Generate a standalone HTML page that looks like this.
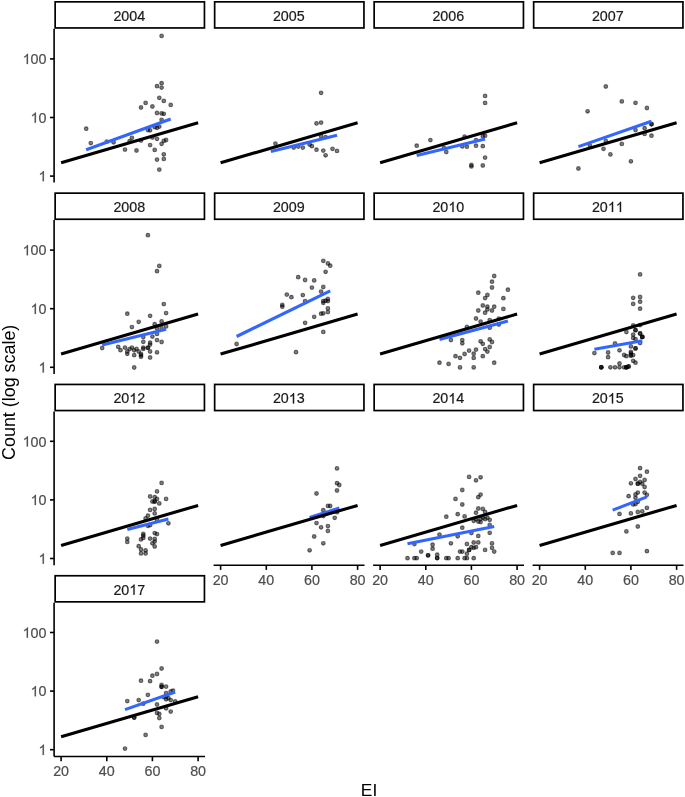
<!DOCTYPE html>
<html><head><meta charset="utf-8"><title>chart</title>
<style>
html,body{margin:0;padding:0;background:#fff;overflow:hidden;}
svg{display:block;will-change:transform;transform:translateZ(0);}
text{font-family:"Liberation Sans",sans-serif;}
.at{font-size:14.3px;fill:#4d4d4d;stroke:#4d4d4d;stroke-width:.2px;}
.st{font-size:14.3px;fill:#1a1a1a;stroke:#1a1a1a;stroke-width:.2px;}
.ti{font-size:17.9px;fill:#000;}
.p circle{fill:#000;fill-opacity:.5;stroke:#000;stroke-opacity:.52;stroke-width:1.1;}
</style></head><body>
<svg width="685" height="797" viewBox="0 0 685 797">
<rect width="685" height="797" fill="#fff"/>
<!-- 2004 -->
<g>
<g class="p"><circle cx="161.6" cy="35.9" r="1.85"/><circle cx="161.6" cy="83.2" r="1.85"/><circle cx="157.0" cy="86.2" r="1.85"/><circle cx="161.6" cy="87.6" r="1.85"/><circle cx="159.3" cy="97.8" r="1.85"/><circle cx="163.8" cy="100.9" r="1.85"/><circle cx="145.6" cy="102.9" r="1.85"/><circle cx="170.7" cy="104.9" r="1.85"/><circle cx="152.4" cy="106.5" r="1.85"/><circle cx="141.0" cy="107.5" r="1.85"/><circle cx="157.0" cy="113.0" r="1.85"/><circle cx="161.6" cy="113.4" r="1.85"/><circle cx="163.8" cy="113.8" r="1.85"/><circle cx="161.6" cy="119.8" r="1.85"/><circle cx="159.3" cy="126.6" r="1.85"/><circle cx="157.0" cy="127.8" r="1.85"/><circle cx="154.7" cy="127.2" r="1.85"/><circle cx="150.1" cy="130.3" r="1.85"/><circle cx="147.9" cy="130.0" r="1.85"/><circle cx="86.2" cy="128.7" r="1.85"/><circle cx="90.8" cy="143.1" r="1.85"/><circle cx="106.8" cy="141.6" r="1.85"/><circle cx="113.6" cy="142.3" r="1.85"/><circle cx="125.0" cy="149.6" r="1.85"/><circle cx="131.9" cy="137.8" r="1.85"/><circle cx="129.6" cy="141.2" r="1.85"/><circle cx="136.5" cy="150.5" r="1.85"/><circle cx="141.0" cy="140.5" r="1.85"/><circle cx="152.4" cy="137.5" r="1.85"/><circle cx="157.0" cy="138.8" r="1.85"/><circle cx="166.1" cy="140.0" r="1.85"/><circle cx="163.8" cy="140.9" r="1.85"/><circle cx="161.6" cy="143.8" r="1.85"/><circle cx="150.1" cy="145.1" r="1.85"/><circle cx="154.7" cy="149.9" r="1.85"/><circle cx="163.8" cy="154.3" r="1.85"/><circle cx="163.8" cy="158.9" r="1.85"/><circle cx="157.0" cy="159.6" r="1.85"/><circle cx="159.3" cy="169.6" r="1.85"/></g>
<line x1="86.2" y1="149.7" x2="170.7" y2="119.0" stroke="#3366ff" stroke-width="3.1"/>
<line x1="61.1" y1="162.8" x2="198.1" y2="122.8" stroke="#000" stroke-width="3.1"/>
<rect x="55.15" y="1.85" width="149.30" height="26.10" fill="#fff" stroke="#000" stroke-width="1.7"/>
<text class="st" x="113.39" y="20.80">2</text><text class="st" x="121.35" y="20.80">0</text><text class="st" x="129.30" y="20.80">0</text><text class="st" x="137.25" y="20.80">4</text>
<line x1="54.10" y1="28.8" x2="54.10" y2="182.6" stroke="#000" stroke-width="1.6"/>
<line x1="50.0" y1="58.9" x2="54.1" y2="58.9" stroke="#000" stroke-width="1.6"/>
<path transform="translate(22.64,64.10) scale(0.006982,-0.006982)" d="M763 0H583V1147Q518 1085 412.5 1023T223 930V1104Q374 1175 487 1276T647 1472H763Z" fill="#4d4d4d" stroke="#4d4d4d" stroke-width="28.6"/><text class="at" x="30.59" y="64.10">0</text><text class="at" x="38.55" y="64.10">0</text>
<line x1="50.0" y1="117.5" x2="54.1" y2="117.5" stroke="#000" stroke-width="1.6"/>
<path transform="translate(30.59,122.70) scale(0.006982,-0.006982)" d="M763 0H583V1147Q518 1085 412.5 1023T223 930V1104Q374 1175 487 1276T647 1472H763Z" fill="#4d4d4d" stroke="#4d4d4d" stroke-width="28.6"/><text class="at" x="38.55" y="122.70">0</text>
<line x1="50.0" y1="176.1" x2="54.1" y2="176.1" stroke="#000" stroke-width="1.6"/>
<path transform="translate(38.55,181.30) scale(0.006982,-0.006982)" d="M763 0H583V1147Q518 1085 412.5 1023T223 930V1104Q374 1175 487 1276T647 1472H763Z" fill="#4d4d4d" stroke="#4d4d4d" stroke-width="28.6"/>
</g>
<!-- 2005 -->
<g>
<g class="p"><circle cx="321.1" cy="92.8" r="1.85"/><circle cx="316.5" cy="123.4" r="1.85"/><circle cx="321.1" cy="122.6" r="1.85"/><circle cx="275.4" cy="143.6" r="1.85"/><circle cx="321.1" cy="136.2" r="1.85"/><circle cx="325.6" cy="137.1" r="1.85"/><circle cx="293.7" cy="147.6" r="1.85"/><circle cx="298.2" cy="146.6" r="1.85"/><circle cx="302.8" cy="147.6" r="1.85"/><circle cx="309.6" cy="144.5" r="1.85"/><circle cx="311.9" cy="146.2" r="1.85"/><circle cx="316.5" cy="149.7" r="1.85"/><circle cx="323.3" cy="150.6" r="1.85"/><circle cx="325.6" cy="155.3" r="1.85"/><circle cx="332.5" cy="148.8" r="1.85"/><circle cx="337.0" cy="150.9" r="1.85"/></g>
<line x1="270.9" y1="151.5" x2="337.0" y2="135.2" stroke="#3366ff" stroke-width="3.1"/>
<line x1="220.6" y1="162.8" x2="357.6" y2="122.8" stroke="#000" stroke-width="3.1"/>
<rect x="214.65" y="1.85" width="149.30" height="26.10" fill="#fff" stroke="#000" stroke-width="1.7"/>
<text class="st" x="272.89" y="20.80">2</text><text class="st" x="280.85" y="20.80">0</text><text class="st" x="288.80" y="20.80">0</text><text class="st" x="296.75" y="20.80">5</text>
</g>
<!-- 2006 -->
<g>
<g class="p"><circle cx="485.1" cy="95.9" r="1.85"/><circle cx="485.1" cy="102.9" r="1.85"/><circle cx="430.4" cy="140.1" r="1.85"/><circle cx="416.7" cy="145.7" r="1.85"/><circle cx="464.6" cy="136.6" r="1.85"/><circle cx="485.1" cy="135.7" r="1.85"/><circle cx="482.8" cy="136.2" r="1.85"/><circle cx="476.0" cy="140.1" r="1.85"/><circle cx="476.0" cy="145.7" r="1.85"/><circle cx="482.8" cy="146.2" r="1.85"/><circle cx="466.9" cy="146.7" r="1.85"/><circle cx="462.3" cy="146.4" r="1.85"/><circle cx="446.3" cy="152.0" r="1.85"/><circle cx="444.0" cy="148.0" r="1.85"/><circle cx="485.1" cy="157.6" r="1.85"/><circle cx="471.4" cy="165.0" r="1.85"/><circle cx="471.4" cy="166.4" r="1.85"/><circle cx="482.8" cy="165.5" r="1.85"/></g>
<line x1="416.7" y1="155.5" x2="485.1" y2="138.9" stroke="#3366ff" stroke-width="3.1"/>
<line x1="380.1" y1="162.8" x2="517.1" y2="122.8" stroke="#000" stroke-width="3.1"/>
<rect x="374.15" y="1.85" width="149.30" height="26.10" fill="#fff" stroke="#000" stroke-width="1.7"/>
<text class="st" x="432.39" y="20.80">2</text><text class="st" x="440.35" y="20.80">0</text><text class="st" x="448.30" y="20.80">0</text><text class="st" x="456.25" y="20.80">6</text>
</g>
<!-- 2007 -->
<g>
<g class="p"><circle cx="605.8" cy="86.5" r="1.85"/><circle cx="621.8" cy="101.4" r="1.85"/><circle cx="635.5" cy="102.8" r="1.85"/><circle cx="646.9" cy="108.0" r="1.85"/><circle cx="587.6" cy="111.3" r="1.85"/><circle cx="651.5" cy="124.0" r="1.85"/><circle cx="651.5" cy="124.3" r="1.85"/><circle cx="644.6" cy="128.2" r="1.85"/><circle cx="635.5" cy="130.1" r="1.85"/><circle cx="644.6" cy="133.9" r="1.85"/><circle cx="651.5" cy="135.7" r="1.85"/><circle cx="605.8" cy="141.0" r="1.85"/><circle cx="589.8" cy="145.3" r="1.85"/><circle cx="621.8" cy="143.9" r="1.85"/><circle cx="603.5" cy="148.8" r="1.85"/><circle cx="610.4" cy="154.4" r="1.85"/><circle cx="630.9" cy="161.3" r="1.85"/><circle cx="578.4" cy="168.5" r="1.85"/></g>
<line x1="578.4" y1="146.6" x2="651.5" y2="121.2" stroke="#3366ff" stroke-width="3.1"/>
<line x1="539.6" y1="162.8" x2="676.6" y2="122.8" stroke="#000" stroke-width="3.1"/>
<rect x="533.65" y="1.85" width="149.30" height="26.10" fill="#fff" stroke="#000" stroke-width="1.7"/>
<text class="st" x="591.89" y="20.80">2</text><text class="st" x="599.85" y="20.80">0</text><text class="st" x="607.80" y="20.80">0</text><text class="st" x="615.75" y="20.80">7</text>
</g>
<!-- 2008 -->
<g>
<g class="p"><circle cx="147.9" cy="235.2" r="1.85"/><circle cx="159.3" cy="265.9" r="1.85"/><circle cx="157.0" cy="271.2" r="1.85"/><circle cx="163.8" cy="304.1" r="1.85"/><circle cx="127.3" cy="313.7" r="1.85"/><circle cx="166.1" cy="313.1" r="1.85"/><circle cx="150.1" cy="315.8" r="1.85"/><circle cx="138.7" cy="321.8" r="1.85"/><circle cx="131.9" cy="327.1" r="1.85"/><circle cx="154.7" cy="324.2" r="1.85"/><circle cx="161.6" cy="321.4" r="1.85"/><circle cx="166.1" cy="326.4" r="1.85"/><circle cx="161.6" cy="328.1" r="1.85"/><circle cx="157.0" cy="328.5" r="1.85"/><circle cx="157.0" cy="333.9" r="1.85"/><circle cx="152.4" cy="336.6" r="1.85"/><circle cx="143.3" cy="337.1" r="1.85"/><circle cx="157.0" cy="340.1" r="1.85"/><circle cx="161.6" cy="342.0" r="1.85"/><circle cx="143.3" cy="341.8" r="1.85"/><circle cx="150.1" cy="342.7" r="1.85"/><circle cx="150.1" cy="344.6" r="1.85"/><circle cx="102.2" cy="348.0" r="1.85"/><circle cx="118.2" cy="346.8" r="1.85"/><circle cx="120.5" cy="350.2" r="1.85"/><circle cx="125.0" cy="347.6" r="1.85"/><circle cx="131.9" cy="347.6" r="1.85"/><circle cx="129.6" cy="349.1" r="1.85"/><circle cx="127.3" cy="351.5" r="1.85"/><circle cx="127.3" cy="353.8" r="1.85"/><circle cx="136.5" cy="348.9" r="1.85"/><circle cx="134.2" cy="350.3" r="1.85"/><circle cx="138.7" cy="351.5" r="1.85"/><circle cx="134.2" cy="355.2" r="1.85"/><circle cx="143.3" cy="347.6" r="1.85"/><circle cx="143.3" cy="348.9" r="1.85"/><circle cx="147.9" cy="347.6" r="1.85"/><circle cx="147.9" cy="347.8" r="1.85"/><circle cx="141.0" cy="353.8" r="1.85"/><circle cx="141.0" cy="355.3" r="1.85"/><circle cx="141.0" cy="356.7" r="1.85"/><circle cx="150.1" cy="351.5" r="1.85"/><circle cx="157.0" cy="352.3" r="1.85"/><circle cx="150.1" cy="357.5" r="1.85"/><circle cx="134.2" cy="367.5" r="1.85"/></g>
<line x1="102.2" y1="345.0" x2="166.1" y2="329.3" stroke="#3366ff" stroke-width="3.1"/>
<line x1="61.1" y1="354.1" x2="198.1" y2="314.1" stroke="#000" stroke-width="3.1"/>
<rect x="55.15" y="193.15" width="149.30" height="26.10" fill="#fff" stroke="#000" stroke-width="1.7"/>
<text class="st" x="113.39" y="212.10">2</text><text class="st" x="121.35" y="212.10">0</text><text class="st" x="129.30" y="212.10">0</text><text class="st" x="137.25" y="212.10">8</text>
<line x1="54.10" y1="220.1" x2="54.10" y2="373.9" stroke="#000" stroke-width="1.6"/>
<line x1="50.0" y1="250.1" x2="54.1" y2="250.1" stroke="#000" stroke-width="1.6"/>
<path transform="translate(22.64,255.30) scale(0.006982,-0.006982)" d="M763 0H583V1147Q518 1085 412.5 1023T223 930V1104Q374 1175 487 1276T647 1472H763Z" fill="#4d4d4d" stroke="#4d4d4d" stroke-width="28.6"/><text class="at" x="30.59" y="255.30">0</text><text class="at" x="38.55" y="255.30">0</text>
<line x1="50.0" y1="308.7" x2="54.1" y2="308.7" stroke="#000" stroke-width="1.6"/>
<path transform="translate(30.59,313.90) scale(0.006982,-0.006982)" d="M763 0H583V1147Q518 1085 412.5 1023T223 930V1104Q374 1175 487 1276T647 1472H763Z" fill="#4d4d4d" stroke="#4d4d4d" stroke-width="28.6"/><text class="at" x="38.55" y="313.90">0</text>
<line x1="50.0" y1="367.3" x2="54.1" y2="367.3" stroke="#000" stroke-width="1.6"/>
<path transform="translate(38.55,372.50) scale(0.006982,-0.006982)" d="M763 0H583V1147Q518 1085 412.5 1023T223 930V1104Q374 1175 487 1276T647 1472H763Z" fill="#4d4d4d" stroke="#4d4d4d" stroke-width="28.6"/>
</g>
<!-- 2009 -->
<g>
<g class="p"><circle cx="323.3" cy="260.8" r="1.85"/><circle cx="327.9" cy="263.4" r="1.85"/><circle cx="330.2" cy="265.7" r="1.85"/><circle cx="325.6" cy="271.8" r="1.85"/><circle cx="298.2" cy="277.2" r="1.85"/><circle cx="305.1" cy="280.0" r="1.85"/><circle cx="314.2" cy="280.4" r="1.85"/><circle cx="323.3" cy="287.0" r="1.85"/><circle cx="311.9" cy="287.6" r="1.85"/><circle cx="321.1" cy="291.6" r="1.85"/><circle cx="286.8" cy="294.6" r="1.85"/><circle cx="291.4" cy="297.2" r="1.85"/><circle cx="302.8" cy="295.1" r="1.85"/><circle cx="305.1" cy="301.1" r="1.85"/><circle cx="282.3" cy="304.9" r="1.85"/><circle cx="282.3" cy="306.7" r="1.85"/><circle cx="327.9" cy="299.0" r="1.85"/><circle cx="323.3" cy="301.1" r="1.85"/><circle cx="325.6" cy="300.7" r="1.85"/><circle cx="327.9" cy="301.1" r="1.85"/><circle cx="323.3" cy="302.8" r="1.85"/><circle cx="327.9" cy="308.4" r="1.85"/><circle cx="327.9" cy="312.1" r="1.85"/><circle cx="321.1" cy="313.7" r="1.85"/><circle cx="323.3" cy="313.3" r="1.85"/><circle cx="314.2" cy="316.8" r="1.85"/><circle cx="305.1" cy="322.8" r="1.85"/><circle cx="323.3" cy="331.9" r="1.85"/><circle cx="236.6" cy="344.0" r="1.85"/><circle cx="296.0" cy="352.2" r="1.85"/></g>
<line x1="236.6" y1="336.5" x2="330.2" y2="290.9" stroke="#3366ff" stroke-width="3.1"/>
<line x1="220.6" y1="354.1" x2="357.6" y2="314.1" stroke="#000" stroke-width="3.1"/>
<rect x="214.65" y="193.15" width="149.30" height="26.10" fill="#fff" stroke="#000" stroke-width="1.7"/>
<text class="st" x="272.89" y="212.10">2</text><text class="st" x="280.85" y="212.10">0</text><text class="st" x="288.80" y="212.10">0</text><text class="st" x="296.75" y="212.10">9</text>
</g>
<!-- 2010 -->
<g>
<g class="p"><circle cx="494.2" cy="276.0" r="1.85"/><circle cx="492.0" cy="281.7" r="1.85"/><circle cx="492.0" cy="287.5" r="1.85"/><circle cx="507.9" cy="289.7" r="1.85"/><circle cx="478.3" cy="292.7" r="1.85"/><circle cx="487.4" cy="295.0" r="1.85"/><circle cx="485.1" cy="298.1" r="1.85"/><circle cx="503.4" cy="298.2" r="1.85"/><circle cx="482.8" cy="305.5" r="1.85"/><circle cx="487.4" cy="306.7" r="1.85"/><circle cx="494.2" cy="306.7" r="1.85"/><circle cx="503.4" cy="308.9" r="1.85"/><circle cx="478.3" cy="310.5" r="1.85"/><circle cx="487.4" cy="309.4" r="1.85"/><circle cx="492.0" cy="310.5" r="1.85"/><circle cx="485.1" cy="312.7" r="1.85"/><circle cx="476.0" cy="318.5" r="1.85"/><circle cx="480.6" cy="321.6" r="1.85"/><circle cx="489.7" cy="320.1" r="1.85"/><circle cx="498.8" cy="318.6" r="1.85"/><circle cx="498.8" cy="324.5" r="1.85"/><circle cx="489.7" cy="327.7" r="1.85"/><circle cx="466.9" cy="327.0" r="1.85"/><circle cx="450.9" cy="340.1" r="1.85"/><circle cx="462.3" cy="340.1" r="1.85"/><circle cx="462.3" cy="343.3" r="1.85"/><circle cx="480.6" cy="341.3" r="1.85"/><circle cx="482.8" cy="343.8" r="1.85"/><circle cx="489.7" cy="339.4" r="1.85"/><circle cx="492.0" cy="342.0" r="1.85"/><circle cx="489.7" cy="347.0" r="1.85"/><circle cx="485.1" cy="349.1" r="1.85"/><circle cx="487.4" cy="351.6" r="1.85"/><circle cx="476.0" cy="349.6" r="1.85"/><circle cx="469.1" cy="350.6" r="1.85"/><circle cx="473.7" cy="353.7" r="1.85"/><circle cx="464.6" cy="354.0" r="1.85"/><circle cx="455.5" cy="356.2" r="1.85"/><circle cx="460.0" cy="357.8" r="1.85"/><circle cx="473.7" cy="357.9" r="1.85"/><circle cx="482.8" cy="356.2" r="1.85"/><circle cx="439.5" cy="362.7" r="1.85"/><circle cx="448.6" cy="363.9" r="1.85"/><circle cx="494.2" cy="362.7" r="1.85"/><circle cx="460.0" cy="367.4" r="1.85"/><circle cx="473.7" cy="367.4" r="1.85"/></g>
<line x1="439.5" y1="339.4" x2="507.9" y2="321.1" stroke="#3366ff" stroke-width="3.1"/>
<line x1="380.1" y1="354.1" x2="517.1" y2="314.1" stroke="#000" stroke-width="3.1"/>
<rect x="374.15" y="193.15" width="149.30" height="26.10" fill="#fff" stroke="#000" stroke-width="1.7"/>
<text class="st" x="432.39" y="212.10">2</text><text class="st" x="440.35" y="212.10">0</text><path transform="translate(448.30,212.10) scale(0.006982,-0.006982)" d="M763 0H583V1147Q518 1085 412.5 1023T223 930V1104Q374 1175 487 1276T647 1472H763Z" fill="#1a1a1a" stroke="#1a1a1a" stroke-width="28.6"/><text class="st" x="456.25" y="212.10">0</text>
</g>
<!-- 2011 -->
<g>
<g class="p"><circle cx="640.1" cy="274.4" r="1.85"/><circle cx="633.2" cy="297.8" r="1.85"/><circle cx="640.1" cy="297.0" r="1.85"/><circle cx="640.1" cy="301.7" r="1.85"/><circle cx="633.2" cy="303.9" r="1.85"/><circle cx="640.1" cy="308.7" r="1.85"/><circle cx="633.2" cy="325.5" r="1.85"/><circle cx="640.1" cy="325.1" r="1.85"/><circle cx="635.5" cy="330.2" r="1.85"/><circle cx="635.5" cy="330.2" r="1.85"/><circle cx="626.4" cy="332.1" r="1.85"/><circle cx="640.1" cy="333.5" r="1.85"/><circle cx="640.1" cy="333.5" r="1.85"/><circle cx="633.2" cy="334.6" r="1.85"/><circle cx="642.3" cy="336.9" r="1.85"/><circle cx="642.3" cy="336.9" r="1.85"/><circle cx="642.3" cy="336.9" r="1.85"/><circle cx="633.2" cy="337.9" r="1.85"/><circle cx="635.5" cy="339.1" r="1.85"/><circle cx="640.1" cy="343.0" r="1.85"/><circle cx="615.0" cy="343.5" r="1.85"/><circle cx="630.9" cy="346.4" r="1.85"/><circle cx="635.5" cy="348.4" r="1.85"/><circle cx="635.5" cy="348.4" r="1.85"/><circle cx="619.5" cy="350.3" r="1.85"/><circle cx="594.4" cy="353.1" r="1.85"/><circle cx="608.1" cy="352.5" r="1.85"/><circle cx="608.1" cy="357.2" r="1.85"/><circle cx="630.9" cy="351.8" r="1.85"/><circle cx="630.9" cy="353.3" r="1.85"/><circle cx="630.9" cy="354.8" r="1.85"/><circle cx="630.9" cy="355.8" r="1.85"/><circle cx="633.2" cy="355.1" r="1.85"/><circle cx="624.1" cy="355.0" r="1.85"/><circle cx="626.4" cy="356.2" r="1.85"/><circle cx="633.2" cy="360.8" r="1.85"/><circle cx="635.5" cy="362.7" r="1.85"/><circle cx="619.5" cy="363.5" r="1.85"/><circle cx="601.3" cy="367.3" r="1.85"/><circle cx="601.3" cy="367.3" r="1.85"/><circle cx="601.3" cy="367.3" r="1.85"/><circle cx="610.4" cy="367.3" r="1.85"/><circle cx="615.0" cy="367.3" r="1.85"/><circle cx="619.5" cy="367.3" r="1.85"/><circle cx="624.1" cy="367.3" r="1.85"/><circle cx="626.4" cy="367.3" r="1.85"/><circle cx="626.4" cy="367.3" r="1.85"/><circle cx="626.4" cy="367.3" r="1.85"/><circle cx="628.6" cy="366.5" r="1.85"/><circle cx="628.6" cy="366.5" r="1.85"/></g>
<line x1="594.4" y1="349.3" x2="642.3" y2="340.8" stroke="#3366ff" stroke-width="3.1"/>
<line x1="539.6" y1="354.1" x2="676.6" y2="314.1" stroke="#000" stroke-width="3.1"/>
<rect x="533.65" y="193.15" width="149.30" height="26.10" fill="#fff" stroke="#000" stroke-width="1.7"/>
<text class="st" x="591.89" y="212.10">2</text><text class="st" x="599.85" y="212.10">0</text><path transform="translate(607.80,212.10) scale(0.006982,-0.006982)" d="M763 0H583V1147Q518 1085 412.5 1023T223 930V1104Q374 1175 487 1276T647 1472H763Z" fill="#1a1a1a" stroke="#1a1a1a" stroke-width="28.6"/><path transform="translate(615.75,212.10) scale(0.006982,-0.006982)" d="M763 0H583V1147Q518 1085 412.5 1023T223 930V1104Q374 1175 487 1276T647 1472H763Z" fill="#1a1a1a" stroke="#1a1a1a" stroke-width="28.6"/>
</g>
<!-- 2012 -->
<g>
<g class="p"><circle cx="161.6" cy="482.9" r="1.85"/><circle cx="157.0" cy="491.4" r="1.85"/><circle cx="150.1" cy="496.5" r="1.85"/><circle cx="154.7" cy="497.2" r="1.85"/><circle cx="157.0" cy="498.9" r="1.85"/><circle cx="166.1" cy="498.9" r="1.85"/><circle cx="152.4" cy="501.5" r="1.85"/><circle cx="154.7" cy="501.5" r="1.85"/><circle cx="154.7" cy="501.5" r="1.85"/><circle cx="159.3" cy="503.4" r="1.85"/><circle cx="154.7" cy="508.9" r="1.85"/><circle cx="150.1" cy="509.9" r="1.85"/><circle cx="154.7" cy="513.4" r="1.85"/><circle cx="147.9" cy="515.7" r="1.85"/><circle cx="145.6" cy="518.4" r="1.85"/><circle cx="168.4" cy="523.3" r="1.85"/><circle cx="147.9" cy="525.8" r="1.85"/><circle cx="150.1" cy="525.2" r="1.85"/><circle cx="157.0" cy="519.9" r="1.85"/><circle cx="154.7" cy="533.1" r="1.85"/><circle cx="157.0" cy="534.1" r="1.85"/><circle cx="143.3" cy="534.0" r="1.85"/><circle cx="143.3" cy="535.7" r="1.85"/><circle cx="143.3" cy="537.9" r="1.85"/><circle cx="141.0" cy="539.4" r="1.85"/><circle cx="127.3" cy="538.6" r="1.85"/><circle cx="127.3" cy="541.9" r="1.85"/><circle cx="150.1" cy="538.6" r="1.85"/><circle cx="154.7" cy="539.0" r="1.85"/><circle cx="154.7" cy="541.6" r="1.85"/><circle cx="152.4" cy="543.3" r="1.85"/><circle cx="154.7" cy="546.5" r="1.85"/><circle cx="138.7" cy="546.2" r="1.85"/><circle cx="141.0" cy="549.5" r="1.85"/><circle cx="145.6" cy="550.4" r="1.85"/><circle cx="141.0" cy="553.4" r="1.85"/><circle cx="145.6" cy="553.4" r="1.85"/></g>
<line x1="127.3" y1="529.4" x2="168.4" y2="518.9" stroke="#3366ff" stroke-width="3.1"/>
<line x1="61.1" y1="545.4" x2="198.1" y2="505.4" stroke="#000" stroke-width="3.1"/>
<rect x="55.15" y="384.45" width="149.30" height="26.10" fill="#fff" stroke="#000" stroke-width="1.7"/>
<text class="st" x="113.39" y="403.40">2</text><text class="st" x="121.35" y="403.40">0</text><path transform="translate(129.30,403.40) scale(0.006982,-0.006982)" d="M763 0H583V1147Q518 1085 412.5 1023T223 930V1104Q374 1175 487 1276T647 1472H763Z" fill="#1a1a1a" stroke="#1a1a1a" stroke-width="28.6"/><text class="st" x="137.25" y="403.40">2</text>
<line x1="54.10" y1="411.4" x2="54.10" y2="565.2" stroke="#000" stroke-width="1.6"/>
<line x1="50.0" y1="441.3" x2="54.1" y2="441.3" stroke="#000" stroke-width="1.6"/>
<path transform="translate(22.64,446.50) scale(0.006982,-0.006982)" d="M763 0H583V1147Q518 1085 412.5 1023T223 930V1104Q374 1175 487 1276T647 1472H763Z" fill="#4d4d4d" stroke="#4d4d4d" stroke-width="28.6"/><text class="at" x="30.59" y="446.50">0</text><text class="at" x="38.55" y="446.50">0</text>
<line x1="50.0" y1="499.9" x2="54.1" y2="499.9" stroke="#000" stroke-width="1.6"/>
<path transform="translate(30.59,505.10) scale(0.006982,-0.006982)" d="M763 0H583V1147Q518 1085 412.5 1023T223 930V1104Q374 1175 487 1276T647 1472H763Z" fill="#4d4d4d" stroke="#4d4d4d" stroke-width="28.6"/><text class="at" x="38.55" y="505.10">0</text>
<line x1="50.0" y1="558.5" x2="54.1" y2="558.5" stroke="#000" stroke-width="1.6"/>
<path transform="translate(38.55,563.70) scale(0.006982,-0.006982)" d="M763 0H583V1147Q518 1085 412.5 1023T223 930V1104Q374 1175 487 1276T647 1472H763Z" fill="#4d4d4d" stroke="#4d4d4d" stroke-width="28.6"/>
</g>
<!-- 2013 -->
<g>
<g class="p"><circle cx="337.0" cy="468.4" r="1.85"/><circle cx="337.0" cy="483.2" r="1.85"/><circle cx="339.3" cy="485.0" r="1.85"/><circle cx="337.0" cy="490.5" r="1.85"/><circle cx="316.5" cy="493.5" r="1.85"/><circle cx="327.9" cy="505.9" r="1.85"/><circle cx="330.2" cy="506.0" r="1.85"/><circle cx="323.3" cy="510.2" r="1.85"/><circle cx="337.0" cy="512.2" r="1.85"/><circle cx="323.3" cy="516.1" r="1.85"/><circle cx="334.7" cy="517.8" r="1.85"/><circle cx="316.5" cy="523.1" r="1.85"/><circle cx="321.1" cy="527.3" r="1.85"/><circle cx="327.9" cy="526.1" r="1.85"/><circle cx="327.9" cy="530.9" r="1.85"/><circle cx="314.2" cy="536.5" r="1.85"/><circle cx="323.3" cy="543.3" r="1.85"/><circle cx="309.6" cy="550.3" r="1.85"/></g>
<line x1="309.6" y1="517.4" x2="339.3" y2="508.1" stroke="#3366ff" stroke-width="3.1"/>
<line x1="220.6" y1="545.4" x2="357.6" y2="505.4" stroke="#000" stroke-width="3.1"/>
<rect x="214.65" y="384.45" width="149.30" height="26.10" fill="#fff" stroke="#000" stroke-width="1.7"/>
<text class="st" x="272.89" y="403.40">2</text><text class="st" x="280.85" y="403.40">0</text><path transform="translate(288.80,403.40) scale(0.006982,-0.006982)" d="M763 0H583V1147Q518 1085 412.5 1023T223 930V1104Q374 1175 487 1276T647 1472H763Z" fill="#1a1a1a" stroke="#1a1a1a" stroke-width="28.6"/><text class="st" x="296.75" y="403.40">3</text>
<line x1="213.6" y1="565.2" x2="364.5" y2="565.2" stroke="#000" stroke-width="1.6"/>
<line x1="220.6" y1="565.2" x2="220.6" y2="569.9" stroke="#000" stroke-width="1.6"/>
<text class="at" x="220.6" y="584.7" text-anchor="middle">20</text>
<line x1="266.3" y1="565.2" x2="266.3" y2="569.9" stroke="#000" stroke-width="1.6"/>
<text class="at" x="266.3" y="584.7" text-anchor="middle">40</text>
<line x1="311.9" y1="565.2" x2="311.9" y2="569.9" stroke="#000" stroke-width="1.6"/>
<text class="at" x="311.9" y="584.7" text-anchor="middle">60</text>
<line x1="357.6" y1="565.2" x2="357.6" y2="569.9" stroke="#000" stroke-width="1.6"/>
<text class="at" x="357.6" y="584.7" text-anchor="middle">80</text>
</g>
<!-- 2014 -->
<g>
<g class="p"><circle cx="469.1" cy="476.9" r="1.85"/><circle cx="480.6" cy="477.3" r="1.85"/><circle cx="476.0" cy="480.3" r="1.85"/><circle cx="462.3" cy="490.0" r="1.85"/><circle cx="480.6" cy="494.6" r="1.85"/><circle cx="478.3" cy="497.2" r="1.85"/><circle cx="455.5" cy="498.9" r="1.85"/><circle cx="462.3" cy="504.5" r="1.85"/><circle cx="478.3" cy="508.5" r="1.85"/><circle cx="482.8" cy="508.9" r="1.85"/><circle cx="476.0" cy="512.7" r="1.85"/><circle cx="485.1" cy="512.0" r="1.85"/><circle cx="457.7" cy="514.2" r="1.85"/><circle cx="446.3" cy="516.7" r="1.85"/><circle cx="464.6" cy="516.4" r="1.85"/><circle cx="473.7" cy="520.8" r="1.85"/><circle cx="476.0" cy="519.2" r="1.85"/><circle cx="478.3" cy="521.5" r="1.85"/><circle cx="480.6" cy="522.1" r="1.85"/><circle cx="480.6" cy="519.0" r="1.85"/><circle cx="482.8" cy="517.7" r="1.85"/><circle cx="485.1" cy="519.2" r="1.85"/><circle cx="487.4" cy="517.7" r="1.85"/><circle cx="489.7" cy="519.8" r="1.85"/><circle cx="489.7" cy="525.0" r="1.85"/><circle cx="462.3" cy="527.7" r="1.85"/><circle cx="489.7" cy="532.8" r="1.85"/><circle cx="471.4" cy="533.1" r="1.85"/><circle cx="478.3" cy="535.9" r="1.85"/><circle cx="457.7" cy="536.3" r="1.85"/><circle cx="439.5" cy="534.6" r="1.85"/><circle cx="450.9" cy="543.3" r="1.85"/><circle cx="473.7" cy="542.5" r="1.85"/><circle cx="478.3" cy="542.4" r="1.85"/><circle cx="492.0" cy="543.4" r="1.85"/><circle cx="466.9" cy="544.0" r="1.85"/><circle cx="471.4" cy="547.2" r="1.85"/><circle cx="473.7" cy="547.8" r="1.85"/><circle cx="476.0" cy="547.2" r="1.85"/><circle cx="492.0" cy="547.8" r="1.85"/><circle cx="469.1" cy="549.9" r="1.85"/><circle cx="469.1" cy="549.9" r="1.85"/><circle cx="485.1" cy="549.9" r="1.85"/><circle cx="494.2" cy="551.6" r="1.85"/><circle cx="460.0" cy="551.6" r="1.85"/><circle cx="462.3" cy="551.6" r="1.85"/><circle cx="466.9" cy="553.7" r="1.85"/><circle cx="414.4" cy="544.0" r="1.85"/><circle cx="432.6" cy="544.7" r="1.85"/><circle cx="432.6" cy="548.7" r="1.85"/><circle cx="421.2" cy="551.6" r="1.85"/><circle cx="428.1" cy="555.3" r="1.85"/><circle cx="428.1" cy="555.3" r="1.85"/><circle cx="437.2" cy="554.7" r="1.85"/><circle cx="437.2" cy="558.1" r="1.85"/><circle cx="437.2" cy="558.1" r="1.85"/><circle cx="407.5" cy="558.2" r="1.85"/><circle cx="414.4" cy="558.2" r="1.85"/><circle cx="416.7" cy="558.2" r="1.85"/><circle cx="446.3" cy="558.2" r="1.85"/><circle cx="448.6" cy="558.2" r="1.85"/><circle cx="457.7" cy="558.2" r="1.85"/><circle cx="464.6" cy="558.2" r="1.85"/><circle cx="466.9" cy="558.2" r="1.85"/><circle cx="473.7" cy="558.2" r="1.85"/></g>
<line x1="407.5" y1="543.8" x2="494.2" y2="526.5" stroke="#3366ff" stroke-width="3.1"/>
<line x1="380.1" y1="545.4" x2="517.1" y2="505.4" stroke="#000" stroke-width="3.1"/>
<rect x="374.15" y="384.45" width="149.30" height="26.10" fill="#fff" stroke="#000" stroke-width="1.7"/>
<text class="st" x="432.39" y="403.40">2</text><text class="st" x="440.35" y="403.40">0</text><path transform="translate(448.30,403.40) scale(0.006982,-0.006982)" d="M763 0H583V1147Q518 1085 412.5 1023T223 930V1104Q374 1175 487 1276T647 1472H763Z" fill="#1a1a1a" stroke="#1a1a1a" stroke-width="28.6"/><text class="st" x="456.25" y="403.40">4</text>
<line x1="373.1" y1="565.2" x2="524.0" y2="565.2" stroke="#000" stroke-width="1.6"/>
<line x1="380.1" y1="565.2" x2="380.1" y2="569.9" stroke="#000" stroke-width="1.6"/>
<text class="at" x="380.1" y="584.7" text-anchor="middle">20</text>
<line x1="425.8" y1="565.2" x2="425.8" y2="569.9" stroke="#000" stroke-width="1.6"/>
<text class="at" x="425.8" y="584.7" text-anchor="middle">40</text>
<line x1="471.4" y1="565.2" x2="471.4" y2="569.9" stroke="#000" stroke-width="1.6"/>
<text class="at" x="471.4" y="584.7" text-anchor="middle">60</text>
<line x1="517.1" y1="565.2" x2="517.1" y2="569.9" stroke="#000" stroke-width="1.6"/>
<text class="at" x="517.1" y="584.7" text-anchor="middle">80</text>
</g>
<!-- 2015 -->
<g>
<g class="p"><circle cx="640.1" cy="468.2" r="1.85"/><circle cx="646.9" cy="471.7" r="1.85"/><circle cx="640.1" cy="475.8" r="1.85"/><circle cx="635.5" cy="479.0" r="1.85"/><circle cx="644.6" cy="480.0" r="1.85"/><circle cx="640.1" cy="482.0" r="1.85"/><circle cx="630.9" cy="483.3" r="1.85"/><circle cx="637.8" cy="483.7" r="1.85"/><circle cx="637.8" cy="483.7" r="1.85"/><circle cx="642.3" cy="483.7" r="1.85"/><circle cx="644.6" cy="487.0" r="1.85"/><circle cx="637.8" cy="492.6" r="1.85"/><circle cx="644.6" cy="492.6" r="1.85"/><circle cx="646.9" cy="494.8" r="1.85"/><circle cx="635.5" cy="494.5" r="1.85"/><circle cx="628.6" cy="496.2" r="1.85"/><circle cx="635.5" cy="497.8" r="1.85"/><circle cx="637.8" cy="501.8" r="1.85"/><circle cx="635.5" cy="504.0" r="1.85"/><circle cx="633.2" cy="504.4" r="1.85"/><circle cx="646.9" cy="507.8" r="1.85"/><circle cx="642.3" cy="511.4" r="1.85"/><circle cx="637.8" cy="512.0" r="1.85"/><circle cx="630.9" cy="513.4" r="1.85"/><circle cx="619.5" cy="513.9" r="1.85"/><circle cx="637.8" cy="526.5" r="1.85"/><circle cx="626.4" cy="531.4" r="1.85"/><circle cx="612.7" cy="552.9" r="1.85"/><circle cx="619.5" cy="552.9" r="1.85"/><circle cx="646.9" cy="551.2" r="1.85"/></g>
<line x1="612.7" y1="510.1" x2="646.9" y2="496.9" stroke="#3366ff" stroke-width="3.1"/>
<line x1="539.6" y1="545.4" x2="676.6" y2="505.4" stroke="#000" stroke-width="3.1"/>
<rect x="533.65" y="384.45" width="149.30" height="26.10" fill="#fff" stroke="#000" stroke-width="1.7"/>
<text class="st" x="591.89" y="403.40">2</text><text class="st" x="599.85" y="403.40">0</text><path transform="translate(607.80,403.40) scale(0.006982,-0.006982)" d="M763 0H583V1147Q518 1085 412.5 1023T223 930V1104Q374 1175 487 1276T647 1472H763Z" fill="#1a1a1a" stroke="#1a1a1a" stroke-width="28.6"/><text class="st" x="615.75" y="403.40">5</text>
<line x1="532.6" y1="565.2" x2="683.5" y2="565.2" stroke="#000" stroke-width="1.6"/>
<line x1="539.6" y1="565.2" x2="539.6" y2="569.9" stroke="#000" stroke-width="1.6"/>
<text class="at" x="539.6" y="584.7" text-anchor="middle">20</text>
<line x1="585.3" y1="565.2" x2="585.3" y2="569.9" stroke="#000" stroke-width="1.6"/>
<text class="at" x="585.3" y="584.7" text-anchor="middle">40</text>
<line x1="630.9" y1="565.2" x2="630.9" y2="569.9" stroke="#000" stroke-width="1.6"/>
<text class="at" x="630.9" y="584.7" text-anchor="middle">60</text>
<line x1="676.6" y1="565.2" x2="676.6" y2="569.9" stroke="#000" stroke-width="1.6"/>
<text class="at" x="676.6" y="584.7" text-anchor="middle">80</text>
</g>
<!-- 2017 -->
<g>
<g class="p"><circle cx="157.0" cy="641.6" r="1.85"/><circle cx="161.6" cy="668.5" r="1.85"/><circle cx="157.0" cy="674.0" r="1.85"/><circle cx="152.4" cy="675.7" r="1.85"/><circle cx="141.0" cy="680.7" r="1.85"/><circle cx="150.1" cy="681.2" r="1.85"/><circle cx="161.6" cy="685.0" r="1.85"/><circle cx="161.6" cy="686.8" r="1.85"/><circle cx="161.6" cy="686.8" r="1.85"/><circle cx="166.1" cy="686.6" r="1.85"/><circle cx="173.0" cy="690.7" r="1.85"/><circle cx="170.7" cy="691.5" r="1.85"/><circle cx="166.1" cy="693.1" r="1.85"/><circle cx="147.9" cy="694.8" r="1.85"/><circle cx="166.1" cy="696.5" r="1.85"/><circle cx="163.8" cy="697.2" r="1.85"/><circle cx="166.1" cy="699.3" r="1.85"/><circle cx="168.4" cy="698.2" r="1.85"/><circle cx="170.7" cy="700.1" r="1.85"/><circle cx="175.2" cy="701.3" r="1.85"/><circle cx="127.3" cy="701.1" r="1.85"/><circle cx="138.7" cy="700.1" r="1.85"/><circle cx="143.3" cy="703.7" r="1.85"/><circle cx="157.0" cy="704.5" r="1.85"/><circle cx="166.1" cy="708.3" r="1.85"/><circle cx="170.7" cy="711.6" r="1.85"/><circle cx="157.0" cy="712.9" r="1.85"/><circle cx="159.3" cy="714.0" r="1.85"/><circle cx="159.3" cy="718.1" r="1.85"/><circle cx="134.2" cy="717.6" r="1.85"/><circle cx="134.2" cy="717.6" r="1.85"/><circle cx="161.6" cy="726.9" r="1.85"/><circle cx="145.6" cy="734.9" r="1.85"/><circle cx="125.0" cy="748.6" r="1.85"/></g>
<line x1="125.0" y1="709.6" x2="175.2" y2="692.0" stroke="#3366ff" stroke-width="3.1"/>
<line x1="61.1" y1="736.7" x2="198.1" y2="696.7" stroke="#000" stroke-width="3.1"/>
<rect x="55.15" y="575.75" width="149.30" height="26.10" fill="#fff" stroke="#000" stroke-width="1.7"/>
<text class="st" x="113.39" y="594.70">2</text><text class="st" x="121.35" y="594.70">0</text><path transform="translate(129.30,594.70) scale(0.006982,-0.006982)" d="M763 0H583V1147Q518 1085 412.5 1023T223 930V1104Q374 1175 487 1276T647 1472H763Z" fill="#1a1a1a" stroke="#1a1a1a" stroke-width="28.6"/><text class="st" x="137.25" y="594.70">7</text>
<line x1="54.10" y1="602.7" x2="54.10" y2="756.5" stroke="#000" stroke-width="1.6"/>
<line x1="50.0" y1="632.5" x2="54.1" y2="632.5" stroke="#000" stroke-width="1.6"/>
<path transform="translate(22.64,637.70) scale(0.006982,-0.006982)" d="M763 0H583V1147Q518 1085 412.5 1023T223 930V1104Q374 1175 487 1276T647 1472H763Z" fill="#4d4d4d" stroke="#4d4d4d" stroke-width="28.6"/><text class="at" x="30.59" y="637.70">0</text><text class="at" x="38.55" y="637.70">0</text>
<line x1="50.0" y1="691.1" x2="54.1" y2="691.1" stroke="#000" stroke-width="1.6"/>
<path transform="translate(30.59,696.30) scale(0.006982,-0.006982)" d="M763 0H583V1147Q518 1085 412.5 1023T223 930V1104Q374 1175 487 1276T647 1472H763Z" fill="#4d4d4d" stroke="#4d4d4d" stroke-width="28.6"/><text class="at" x="38.55" y="696.30">0</text>
<line x1="50.0" y1="749.7" x2="54.1" y2="749.7" stroke="#000" stroke-width="1.6"/>
<path transform="translate(38.55,754.90) scale(0.006982,-0.006982)" d="M763 0H583V1147Q518 1085 412.5 1023T223 930V1104Q374 1175 487 1276T647 1472H763Z" fill="#4d4d4d" stroke="#4d4d4d" stroke-width="28.6"/>
<line x1="54.1" y1="756.5" x2="205.0" y2="756.5" stroke="#000" stroke-width="1.6"/>
<line x1="61.1" y1="756.5" x2="61.1" y2="761.2" stroke="#000" stroke-width="1.6"/>
<text class="at" x="61.1" y="776.0" text-anchor="middle">20</text>
<line x1="106.8" y1="756.5" x2="106.8" y2="761.2" stroke="#000" stroke-width="1.6"/>
<text class="at" x="106.8" y="776.0" text-anchor="middle">40</text>
<line x1="152.4" y1="756.5" x2="152.4" y2="761.2" stroke="#000" stroke-width="1.6"/>
<text class="at" x="152.4" y="776.0" text-anchor="middle">60</text>
<line x1="198.1" y1="756.5" x2="198.1" y2="761.2" stroke="#000" stroke-width="1.6"/>
<text class="at" x="198.1" y="776.0" text-anchor="middle">80</text>
</g>
<text class="ti" x="369.0" y="795.6" text-anchor="middle" style="font-size:17.4px">EI</text>
<text class="ti" transform="translate(14.6,392.3) rotate(-90)" text-anchor="middle">Count (log scale)</text>
</svg>
</body></html>
